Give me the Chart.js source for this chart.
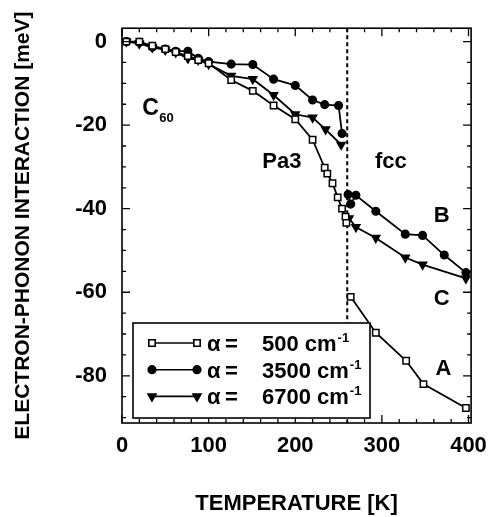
<!DOCTYPE html>
<html>
<head>
<meta charset="utf-8">
<script src="https://cdn.jsdelivr.net/npm/chart.js@4.4.0/dist/chart.umd.min.js"></script>
<style>
html, body { margin: 0; padding: 0; background: #fff; }
#wrap { width: 497px; height: 517px; }
</style>
</head>
<body>
<div id="wrap"><canvas id="epChart"></canvas></div>
<script>
// Electron-phonon interaction of C60 vs temperature.
// null = break at the Pa3 -> fcc transition
const temp500 = [5, 20, 35, 50, 62, 76, 88, 100, 126, 151, 175, 200, 220, 234, 237, 243, 249, 254, 258, 259, 261, 264, 293, 328, 348, 397];
const meV500  = [0, 0, -1.0, -1.8, -2.5, -3.5, -4.4, -5.2, -9.2, -11.8, -15.3, -18.6, -23.5, -30.2, -31.6, -33.9, -37.3, -40, -41.9, -43.4, null, -61.1, -69.7, -76.4, -82, -87.7];

const temp3500 = [5, 20, 35, 50, 62, 76, 88, 100, 126, 151, 175, 200, 220, 234, 250, 254, 257, 261, 264, 270, 293, 327, 347, 372, 397];
const meV3500  = [0, -0.2, -1.3, -1.8, -2.3, -2.3, -4.0, -4.8, -5.4, -5.5, -9.0, -10.5, -14.0, -15.1, -15.3, -22.0, null, -36.6, -38.9, -36.8, -40.6, -46.1, -46.4, -51.1, -55.3];

const temp6700 = [5, 20, 35, 50, 62, 76, 88, 100, 126, 151, 175, 200, 220, 235, 253, 257, 262, 270, 293, 327, 347, 397];
const meV6700  = [0, -0.5, -1.4, -2.0, -2.6, -4.0, -4.4, -5.4, -8.2, -9.0, -12.8, -17.4, -18.2, -21.0, -24.7, null, -42.3, -44.4, -47.0, -51.7, -53.4, -56.7];

const transitionT = 260;
const xTickLabels = [0, 100, 200, 300, 400];
const yTickLabels = [0, -20, -40, -60, -80];
const legendLabels = ['500', '3500', '6700'];

const FONT = "'Liberation Sans', Arial, Helvetica, sans-serif";

const pts = (xs, ys) => xs.map((t, i) => ({ x: t, y: ys[i] }));

const styles = [
    { pointStyle: 'rect', pointRadius: 4.5, pointRotation: 0, pointBackgroundColor: '#fff' },
    { pointStyle: 'circle', pointRadius: 3.8, pointRotation: 0, pointBackgroundColor: '#000' },
    { pointStyle: 'triangle', pointRadius: 4.6, pointRotation: 180, pointBackgroundColor: '#000' }
];

function series(xs, ys, st) {
    return Object.assign({
        data: pts(xs, ys),
        borderColor: '#000',
        borderWidth: 1.8,
        pointBorderColor: '#000',
        pointBorderWidth: 1.5,
        spanGaps: false,
        tension: 0
    }, st);
}

// frame + inward ticks on all four sides
const frameTicks = {
    id: 'frameTicks',
    afterDraw(chart) {
        const { ctx, chartArea: a, scales: { x, y } } = chart;
        ctx.save();
        ctx.strokeStyle = '#000';
        ctx.lineWidth = 1.6;
        ctx.strokeRect(a.left, a.top, a.right - a.left, a.bottom - a.top);
        ctx.lineWidth = 1.3;
        ctx.beginPath();
        for (let t = 0; t <= 400; t += 20) {
            const px = x.getPixelForValue(t);
            const len = t % 100 === 0 ? 8 : 4;
            ctx.moveTo(px, a.bottom); ctx.lineTo(px, a.bottom - len);
            ctx.moveTo(px, a.top); ctx.lineTo(px, a.top + len);
        }
        for (let v = 0; v >= -90; v -= 5) {
            const py = y.getPixelForValue(v);
            const len = v % 20 === 0 ? 8 : 4;
            ctx.moveTo(a.left, py); ctx.lineTo(a.left + len, py);
            ctx.moveTo(a.right, py); ctx.lineTo(a.right - len, py);
        }
        ctx.stroke();
        ctx.restore();
    }
};

// phase labels and curve letters
const notes = [
    { text: 'Pa3', t: 162, v: -30.3 },
    { text: 'fcc', t: 292, v: -30.3 },
    { text: 'B', t: 360, v: -43.3 },
    { text: 'C', t: 360, v: -63.0 },
    { text: 'A', t: 362, v: -79.8 }
];

const textNotes = {
    id: 'textNotes',
    afterDatasetsDraw(chart) {
        const { ctx, scales: { x, y } } = chart;
        ctx.save();
        ctx.fillStyle = '#000';
        ctx.textBaseline = 'alphabetic';
        ctx.textAlign = 'left';
        ctx.font = 'bold 22px ' + FONT;
        notes.forEach(n => ctx.fillText(n.text, x.getPixelForValue(n.t), y.getPixelForValue(n.v)));
        // C60
        ctx.font = 'bold 23px ' + FONT;
        ctx.fillText('C', x.getPixelForValue(23.5), y.getPixelForValue(-17.5));
        ctx.font = 'bold 13px ' + FONT;
        ctx.fillText('60', x.getPixelForValue(43), y.getPixelForValue(-19.3));
        ctx.restore();
    }
};

// boxed legend in the lower-left corner of the plot
const boxLegend = {
    id: 'boxLegend',
    afterDraw(chart) {
        const { ctx, chartArea: a } = chart;
        const bx = a.left + 11, by = a.bottom - 100, bw = 237, bh = 95;
        ctx.save();
        ctx.fillStyle = '#fff';
        ctx.fillRect(bx, by, bw, bh);
        ctx.strokeStyle = '#000';
        ctx.lineWidth = 1.6;
        ctx.strokeRect(bx, by, bw, bh);
        legendLabels.forEach((lab, i) => {
            const ry = by + 20 + i * 26.7;
            const x0 = bx + 19, x1 = bx + 64;
            ctx.lineWidth = 1.6;
            ctx.beginPath();
            ctx.moveTo(x0, ry); ctx.lineTo(x1, ry);
            ctx.stroke();
            const st = styles[i];
            const opt = { pointStyle: st.pointStyle, radius: st.pointRadius, rotation: st.pointRotation, borderWidth: 1.5 };
            ctx.fillStyle = st.pointBackgroundColor;
            ctx.strokeStyle = '#000';
            Chart.helpers.drawPoint(ctx, opt, x0, ry);
            ctx.fillStyle = st.pointBackgroundColor;
            Chart.helpers.drawPoint(ctx, opt, x1, ry);
            ctx.fillStyle = '#000';
            ctx.textBaseline = 'alphabetic';
            ctx.textAlign = 'left';
            const base = ry + 8;
            ctx.font = 'bold 22px ' + FONT;
            ctx.fillText('\u03B1', bx + 74, base);
            ctx.fillText('=', bx + 92, base);
            ctx.fillText(lab, bx + 129, base);
            const w = ctx.measureText(lab + ' ').width;
            ctx.fillText('cm', bx + 129 + w, base);
            const w2 = ctx.measureText('cm').width;
            ctx.font = 'bold 13px ' + FONT;
            ctx.fillText('-1', bx + 129 + w + w2 + 1, base - 9);
        });
        ctx.restore();
    }
};

const ctx = document.getElementById('epChart').getContext('2d');
new Chart(ctx, {
    type: 'line',
    data: {
        datasets: [
            series(temp500, meV500, styles[0]),
            series(temp3500, meV3500, styles[1]),
            series(temp6700, meV6700, styles[2]),
            {
                data: [{ x: transitionT, y: 3.2 }, { x: transitionT, y: -91.3 }],
                borderColor: '#000',
                borderWidth: 2,
                borderDash: [4, 3],
                pointRadius: 0
            }
        ]
    },
    options: {
        responsive: true,
        maintainAspectRatio: false,
        animation: false,
        layout: { padding: { top: 12, right: 19, left: 0, bottom: 0 } },
        plugins: {
            legend: { display: false },
            tooltip: { enabled: false }
        },
        scales: {
            x: {
                type: 'linear',
                min: 0,
                max: 403,
                grid: { display: false, drawTicks: false },
                border: { display: false },
                afterBuildTicks: s => { s.ticks = xTickLabels.map(v => ({ value: v })); },
                afterFit: s => { s.height = 94; },
                ticks: {
                    color: '#000',
                    padding: 10,
                    maxRotation: 0,
                    font: { family: FONT, size: 22, weight: 'bold' }
                },
                title: {
                    display: true,
                    text: 'TEMPERATURE [K]',
                    color: '#000',
                    padding: { top: 0, bottom: 0 },
                    font: { family: FONT, size: 22, weight: 'bold' }
                }
            },
            y: {
                min: -91.3,
                max: 3.2,
                grid: { display: false, drawTicks: false },
                border: { display: false },
                afterBuildTicks: s => { s.ticks = yTickLabels.map(v => ({ value: v })); },
                afterFit: s => { s.width = 122; },
                ticks: {
                    color: '#000',
                    padding: 15,
                    font: { family: FONT, size: 22, weight: 'bold' }
                },
                title: {
                    display: true,
                    text: 'ELECTRON-PHONON INTERACTION [meV]',
                    color: '#000',
                    padding: { top: 11, bottom: 0 },
                    font: { family: FONT, size: 21, weight: 'bold' }
                }
            }
        }
    },
    plugins: [frameTicks, textNotes, boxLegend]
});
</script>
</body>
</html>
